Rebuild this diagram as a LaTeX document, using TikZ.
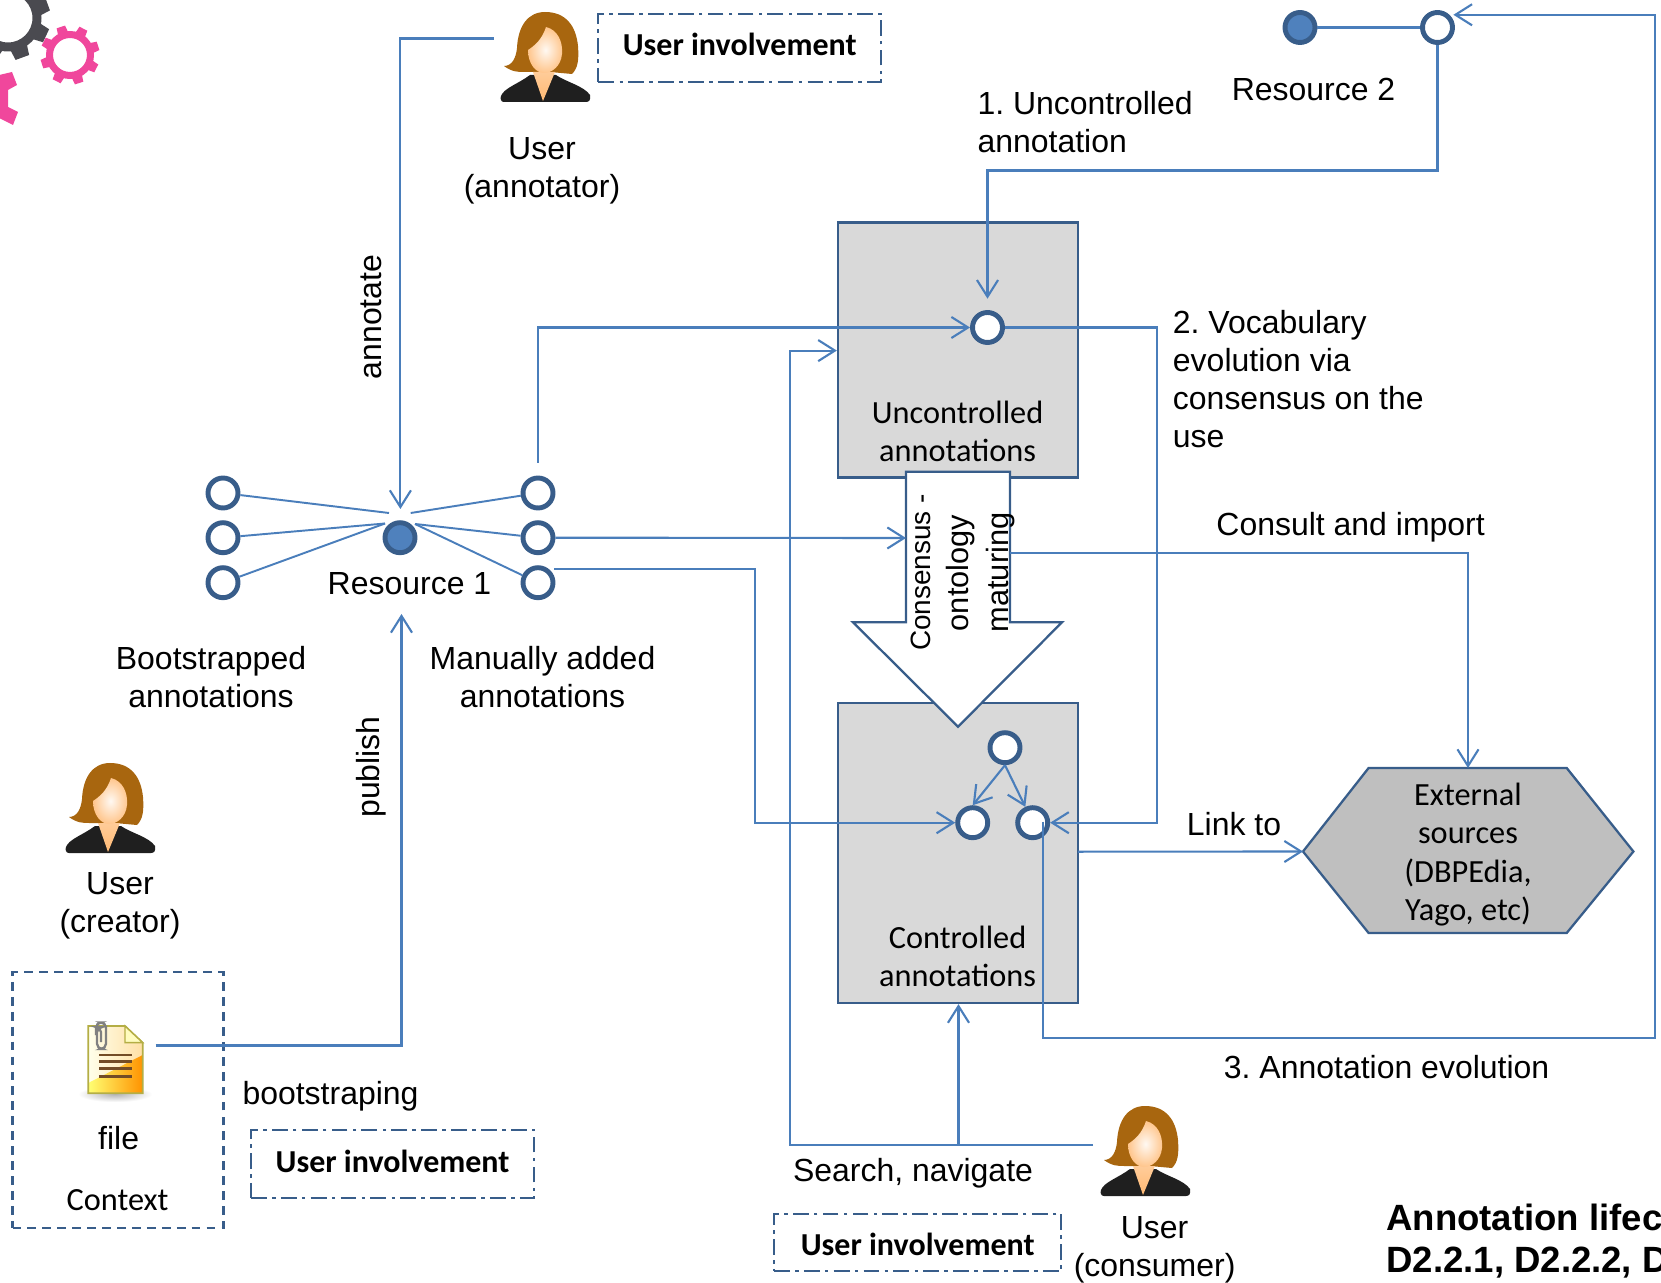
\documentclass[tikz,border=0pt]{standalone}
\usepackage{fontspec}
\setmainfont{Liberation Sans}
\newfontfamily\carlito{Carlito}
\usetikzlibrary{arrows.meta,calc}
\frenchspacing
\definecolor{linkblue}{HTML}{4A7EBB}
\definecolor{rimblue}{HTML}{385D8A}
\definecolor{coreblue}{HTML}{4F81BD}
\definecolor{boxgray}{HTML}{D9D9D9}
\definecolor{hexgray}{HTML}{BFBFBF}
\definecolor{gearpink}{HTML}{F0479C}
\definecolor{geardark}{HTML}{4A4A50}
\definecolor{hairbrown}{HTML}{A8660F}
\def\u{0.02cm}
\tikzset{
  lbl/.style={font=\fontsize{18.2}{21.7}\selectfont,align=center,inner sep=0pt,text=black},
  lblleft/.style={lbl,align=left},
  cal/.style={font=\carlito\fontsize{18.4}{21.6}\selectfont,align=center,inner sep=0pt,text=black},
  calwide/.style={font=\carlito\fontsize{18.4}{21.95}\selectfont,align=center,inner sep=0pt,text=black},
  calb/.style={font=\carlito\bfseries\fontsize{18.2}{21}\selectfont,align=center,inner sep=0pt,text=black},
  rotlbl/.style={font=\fontsize{17.5}{21}\selectfont,rotate=90,inner sep=0pt,text=black},
  rotsmall/.style={font=\fontsize{15.9}{21}\selectfont,rotate=90,inner sep=0pt,text=black},
  headline/.style={font=\bfseries\fontsize{20.8}{25}\selectfont,anchor=west,inner sep=0pt,text=black},
  opennode/.style={circle,draw=rimblue,line width=2.8pt,fill=white,minimum size=30*\u,inner sep=0pt},
  corenode/.style={opennode,fill=coreblue},
  link/.style={draw=linkblue,line width=1.2pt},
  arrowlink/.style={link,-{Straight Barb[length=9.5pt,width=12pt,line width=1.2pt]}},
  spoke/.style={draw=linkblue,line width=1.1pt},
  greybox/.style={rectangle,draw=rimblue,fill=boxgray,line width=1.3pt,inner sep=0pt},
  involve/.style={rectangle,draw=rimblue,line width=1.1pt,dash pattern=on 9pt off 3pt on 2pt off 3pt,inner sep=0pt},
  contextbox/.style={rectangle,draw=rimblue,line width=1.15pt,dash pattern=on 5pt off 3.5pt,inner sep=0pt},
  person/.pic={
    \fill[hairbrown] (45,0) .. controls (66,0) and (76,14) .. (78,34) .. controls (79,48) and (78,56) .. (72,62)
      -- (50,60) -- (24,60) .. controls (18,60) and (12,60) .. (4,54) .. controls (12,54) and (16,46) .. (17,36)
      .. controls (18,14) and (28,0) .. (45,0) -- cycle;
    \fill[black!88] (1,84) .. controls (4,76) and (18,72) .. (30,63) -- (56,63)
      .. controls (66,70) and (84,74) .. (90,83) .. controls (91,88) and (89,90) .. (86,90) -- (4,90)
      .. controls (1,90) and (0,87) .. (1,84) -- cycle;
    \shade[top color=white!60!orange,bottom color=orange!55!white] (33,60) -- (55,60) -- (43,89) -- cycle;
    \shade[inner color=white!95!orange,outer color=orange!45!white] (46,15) .. controls (58,18) and (63,30) .. (62,42)
      .. controls (61,54) and (52,61) .. (44,61) .. controls (36,61) and (28,52) .. (28,38)
      .. controls (34,34) and (42,28) .. (46,15) -- cycle;
  },
  fileicon/.pic={
    \shade[inner color=black!30,outer color=white] (18,86) rectangle (92,102);
    \shade[left color=yellow!8,right color=yellow!30!orange!35!white] (28.3,26) -- (65,26) -- (82.7,42.7) -- (82.7,93.3) -- (28.3,93.3) -- cycle;
    \shade[left color=yellow!55,right color=orange!85!yellow] (82.7,55) -- (82.7,93.3) -- (28.3,93.3) -- (28.3,83) -- cycle;
    \draw[yellow!65!black!95,line width=1pt] (28.3,26) -- (65,26) -- (82.7,42.7) -- (82.7,93.3) -- (28.3,93.3) -- cycle;
    \fill[yellow!25!white,draw=yellow!65!black!95,line width=.8pt] (65,26) -- (65,42.7) -- (82.7,42.7) -- cycle;
    \foreach \yy in {55,61.7,68.3,76.7} \draw[brown!60!black,line width=1.4pt] (39.3,\yy) -- (71.7,\yy);
    \draw[gray,line width=1.3pt,rounded corners=3pt] (41,42) -- (41,27) -- (37,27) -- (37,49) -- (46,49) -- (46,22.5) -- (36,22.5) -- (36,35);
  }
}
% centre x, centre y, ring radius, ring width, tooth reach, tooth half width, first angle, colour
\newcommand{\gearshape}[8]{%
  \draw[#8,line width=#4*\u] (#1,#2) circle (#3);
  \foreach \aa in {0,45,...,315}
    \fill[#8,shift={(#1,#2)},rotate=#7+\aa] (#3,-#6) -- (#5,-#6*0.8) -- (#5,#6*0.8) -- (#3,#6) -- cycle;
}
\begin{document}
\begin{tikzpicture}[x=\u,y=-\u]
\useasboundingbox (0,0) rectangle (1661,1283);
\clip (0,0) rectangle (1661,1283);

% gears
\gearshape{8}{18}{29}{9}{42}{9}{20}{geardark}
\gearshape{70}{55}{20.5}{7}{29.5}{5.5}{18}{gearpink}
\fill[gearpink] (-5,76) -- (12,72) -- (17,85) -- (8,90) -- (8,107) -- (18,112) -- (13,125) -- (-5,116) -- cycle;

% boxes
\node[greybox,minimum width=240*\u,minimum height=255*\u] (uncbox) at (958,350) {};
\node[greybox,minimum width=240*\u,minimum height=300*\u] (conbox) at (958,853) {};
\node[contextbox,minimum width=211*\u,minimum height=255.5*\u] (ctxbox) at (118,1100.2) {};
\node[involve,minimum width=282.5*\u,minimum height=67.8*\u] (inv1) at (739.7,47.7) {};
\node[involve,minimum width=283*\u,minimum height=68*\u] (inv2) at (392.5,1164) {};
\node[involve,minimum width=287.5*\u,minimum height=57*\u] (inv3) at (917.7,1242.5) {};

% block arrow
\fill[white,draw=rimblue,line width=1.3pt] (906,471.7) -- (1010,471.7) -- (1010,622.3) -- (1062,622.3)
  -- (958,726.7) -- (853,622.3) -- (906,622.3) -- cycle;
\coordinate (arrowleft) at (906,538);
\coordinate (arrowright) at (1010,553);

% hexagon
\fill[hexgray,draw=rimblue,line width=1.3pt] (1303,851.5) -- (1368.6,768) -- (1566.7,768) -- (1633.4,851.5)
  -- (1566.7,933) -- (1368.6,933) -- cycle;
\coordinate (hexleft) at (1303,851.5);
\coordinate (hextop) at (1468,768);

% circles
\node[corenode] (res1) at (400,537.7) {};
\node[opennode] (la) at (223,493) {};
\node[opennode] (lb) at (223,537.7) {};
\node[opennode] (lc) at (223,582.7) {};
\node[opennode] (ra) at (538,493) {};
\node[opennode] (rb) at (538,537.7) {};
\node[opennode] (rc) at (538,582.7) {};
\node[corenode] (res2) at (1300,27.5) {};
\node[opennode] (res2b) at (1437.5,27.5) {};
\node[opennode] (unc) at (987.5,327.5) {};
\node[opennode] (cona) at (1005,747.7) {};
\node[opennode] (conb) at (972.7,822.7) {};
\node[opennode] (conc) at (1032.7,822.7) {};

% people and icons
\pic (annotator) at (500,12) {person};
\pic (creator) at (65,763) {person};
\pic (consumer) at (1100,1106) {person};
\pic (doc) at (60,1000) {fileicon};

% way points
\coordinate (hubtl) at (389,513);
\coordinate (hubl) at (385,523.5);
\coordinate (hubtr) at (410.7,513);
\coordinate (hubr) at (415,524);
\coordinate (annotstart) at (493.6,38.5);
\coordinate (annotturn) at (400.4,38.5);
\coordinate (annotend) at (400.4,509);
\coordinate (pubstart) at (155.7,1045.5);
\coordinate (pubturn) at (401.5,1045.5);
\coordinate (pubend) at (401.5,614);
\coordinate (w1) at (987.5,170.5);
\coordinate (w1end) at (987.5,298.7);
\coordinate (manstart) at (538,463);
\coordinate (manturn) at (538,327.5);
\coordinate (w2a) at (1156.8,327.5);
\coordinate (w2b) at (1156.8,822.7);
\coordinate (rcout) at (554,569);
\coordinate (rcturn) at (755.3,569);
\coordinate (rcdown) at (755.3,822.7);
\coordinate (conout) at (1468,553);
\coordinate (linkstart) at (1078,851.7);
\coordinate (evostart) at (1043.3,821.7);
\coordinate (evo1) at (1043.3,1038);
\coordinate (evo2) at (1654.6,1038);
\coordinate (evo3) at (1654.6,14.8);
\coordinate (evoend) at (1453.4,14.8);
\coordinate (consout) at (1093,1145);
\coordinate (consturn) at (790,1145);
\coordinate (consup) at (790,350.6);
\coordinate (consbr) at (958.5,1145);

% spokes
\draw[spoke] (la) -- (hubtl);
\draw[spoke] (lb) -- (hubl);
\draw[spoke] (lc) -- (hubl);
\draw[spoke] (ra) -- (hubtr);
\draw[spoke] (rb) -- (hubr);
\draw[spoke] (rc) -- (hubr);

% connectors
\draw[link] (res2) -- (res2b);
\draw[arrowlink] (res2b) -- (res2b |- w1) -- (w1) -- (w1end);
\draw[arrowlink] (annotstart) -- (annotturn) -- (annotend);
\draw[arrowlink] (pubstart) -- (pubturn) -- (pubend);
\draw[arrowlink] (manstart) -- (manturn) -- (unc);
\draw[arrowlink] (unc) -- (w2a) -- (w2b) -- (conc);
\draw[arrowlink] (rb) -- (arrowleft);
\draw[arrowlink] (rcout) -- (rcturn) -- (rcdown) -- (conb);
\draw[arrowlink] (arrowright) -- (conout) -- (hextop);
\draw[arrowlink] (linkstart) -- (hexleft);
\draw[arrowlink] (evostart) -- (evo1) -- (evo2) -- (evo3) -- (evoend);
\draw[arrowlink] (consout) -- (consturn) -- (consup) -- (uncbox.west |- consup);
\draw[arrowlink] (consbr) -- (conbox.south -| consbr);
\draw[arrowlink] (cona.south) -- (conb.north);
\draw[arrowlink] (cona.south) -- (conc.115);

% labels
\node[lbl] (t1) at (542,171) {User\\(annotator)};
\node[lbl,rotate=90] (t2) at (371.5,317) {annotate};
\node[lbl,rotate=90] (t3) at (371.5,767) {publish};
\node[lbl] (t4) at (409.5,584) {Resource 1};
\node[lbl] (t5) at (211,677) {Bootstrapped\\annotations};
\node[lbl] (t6) at (542.5,677) {Manually added\\annotations};
\node[lbl] (t7) at (120,905.5) {User\\(creator)};
\node[lbl] (t8) at (118.6,1138) {file};
\node[cal] (t9) at (117.6,1200.5) {Context};
\node[lbl] (t10) at (330.5,1096) {bootstraping};
\node[lbl] (t11) at (913,1173.5) {Search, navigate};
\node[lbl] (t12) at (1154.6,1250) {User\\(consumer)};
\node[lblleft,anchor=west] (t13) at (977.2,122) {1. Uncontrolled\\annotation};
\node[lbl] (t14) at (1313.5,89) {Resource 2};
\node[lblleft,anchor=west] (t15) at (1172.6,379.3) {2. Vocabulary\\evolution via\\consensus on the\\use};
\node[lbl] (t16) at (1350.6,527) {Consult and import};
\node[lbl] (t17) at (1234,824) {Link to};
\node[lbl] (t18) at (1386.6,1067) {3. Annotation evolution};
\node[cal] (t19) at (957.6,431) {Uncontrolled\\annotations};
\node[cal] (t20) at (957.6,956.5) {Controlled\\annotations};
\node[calwide] (t21) at (1468,854.5) {External\\sources\\(DBPEdia,\\Yago, etc)};
\node[calb] (t22) at (739.7,44) {User involvement};
\node[calb] (t23) at (392.5,1161) {User involvement};
\node[calb] (t24) at (917.7,1244) {User involvement};
\node[rotsmall] (t25) at (921,572.5) {Consensus -};
\node[rotlbl] (t26) at (961,573) {ontology};
\node[rotlbl] (t27) at (1000.5,572.5) {maturing};
\node[headline] (t28) at (1386,1217) {Annotation lifec};
\node[headline] (t29) at (1386,1263) {D2.2.1, D2.2.2, D};
\end{tikzpicture}
\end{document}
